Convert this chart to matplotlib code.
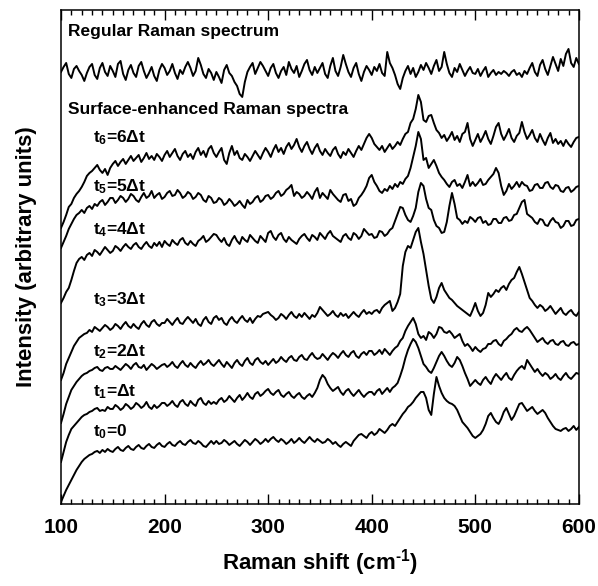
import numpy as np
import matplotlib
matplotlib.use('Agg')
import matplotlib.pyplot as plt
from matplotlib.ticker import MultipleLocator

plt.rcParams['font.family'] = ['Liberation Sans', 'DejaVu Sans']
plt.rcParams['font.weight'] = 'bold'
plt.rcParams['mathtext.fontset'] = 'custom'
plt.rcParams['mathtext.rm'] = 'Liberation Sans:bold'
plt.rcParams['mathtext.it'] = 'Liberation Sans:bold'
plt.rcParams['mathtext.bf'] = 'Liberation Sans:bold'

# Raman shift grid (cm^-1), one sample every 2.5 cm^-1
shift = np.arange(100, 600.1, 2.5)

# intensities (arbitrary units, already offset for stacking), rows of 50 cm^-1
regular = [432, 437, 441, 430, 426, 435, 438, 433, 429, 423, 431, 437, 440, 429, 425, 436, 441, 432, 428, 438,
           433, 427, 440, 443, 430, 424, 434, 439, 431, 427, 438, 442, 433, 426, 431, 437, 428, 423, 434, 440,
           436, 429, 433, 440, 431, 425, 434, 430, 437, 442, 436, 428, 433, 446, 439, 430, 426, 435, 431, 424,
           432, 427, 421, 434, 439, 431, 428, 422, 418, 410, 407, 422, 432, 437, 441, 430, 436, 442, 438, 433,
           428, 436, 440, 431, 426, 433, 437, 429, 442, 435, 431, 438, 427, 433, 440, 444, 434, 429, 437, 431,
           436, 441, 430, 426, 438, 446, 433, 428, 437, 449, 440, 432, 427, 436, 441, 430, 423, 432, 438, 434,
           429, 437, 433, 440, 431, 428, 452, 441, 436, 429, 420, 415, 426, 433, 438, 430, 436, 427, 432, 439,
           434, 441, 436, 430, 438, 444, 433, 437, 452, 440, 431, 427, 436, 432, 440, 434, 428, 433, 437, 431,
           430, 435, 428, 433, 437, 427, 431, 434, 429, 432, 430, 433, 431, 428, 432, 434, 429, 431, 427, 433,
           430, 436, 441, 432, 428, 439, 444, 435, 429, 438, 447, 440, 433, 445, 438, 450, 455, 441, 437, 446,
           440]

t6 = [276, 282, 289, 297, 300, 306, 310, 313, 317, 322, 328, 331, 333, 336, 339, 334, 331, 335, 329, 336,
      340, 343, 338, 342, 345, 340, 344, 348, 343, 346, 349, 342, 346, 351, 345, 348, 344, 350, 347, 343,
      349, 353, 347, 351, 355, 348, 344, 350, 353, 347, 350, 345, 352, 356, 349, 353, 347, 355, 358, 351,
      347, 352, 356, 344, 340, 351, 358, 349, 353, 346, 344, 350, 347, 343, 348, 353, 349, 345, 351, 356,
      352, 347, 354, 359, 352, 356, 350, 357, 361, 355, 359, 365, 357, 352, 358, 362, 355, 350, 356, 360,
      353, 349, 355, 351, 348, 354, 357, 350, 346, 352, 349, 355, 351, 347, 353, 358, 354, 360, 366, 370,
      366, 360, 357, 354, 358, 352, 356, 360, 355, 358, 362, 359, 365, 370, 372, 381, 385, 395, 409, 402,
      384, 382, 388, 389, 381, 374, 371, 366, 369, 363, 367, 372, 364, 368, 362, 370, 372, 381, 365, 358,
      364, 370, 362, 367, 373, 365, 360, 368, 377, 381, 370, 364, 369, 375, 366, 362, 368, 371, 382, 372,
      365, 369, 374, 366, 362, 370, 364, 359, 366, 371, 361, 365, 360, 363, 358, 364, 360, 357, 362, 366,
      367]

t5 = [256, 262, 268, 275, 280, 285, 289, 291, 294, 291, 296, 298, 295, 300, 298, 302, 304, 299, 302, 306,
      306, 301, 304, 308, 306, 302, 305, 310, 308, 304, 302, 307, 311, 306, 308, 313, 306, 309, 311, 305,
      307, 311, 313, 308, 309, 314, 311, 306, 308, 312, 310, 305, 307, 311, 309, 304, 302, 308, 306, 301,
      302, 306, 304, 299, 301, 305, 302, 298, 300, 303, 299, 296, 304, 300, 302, 306, 308, 302, 304, 308,
      309, 305, 307, 311, 313, 308, 310, 314, 316, 319, 308, 312, 310, 306, 308, 312, 309, 305, 312, 316,
      306, 311, 308, 305, 314, 310, 307, 304, 302, 309, 310, 303, 305, 298, 300, 306, 309, 313, 318, 326,
      329, 322, 318, 313, 311, 315, 313, 318, 315, 320, 317, 322, 320, 325, 328, 336, 347, 358, 372, 365,
      344, 346, 336, 340, 344, 338, 331, 327, 324, 320, 317, 322, 324, 318, 320, 316, 322, 329, 318, 322,
      318, 321, 325, 319, 320, 324, 327, 330, 336, 331, 318, 309, 313, 320, 315, 318, 322, 317, 322, 319,
      318, 313, 314, 319, 320, 316, 316, 321, 322, 317, 315, 319, 318, 313, 312, 316, 317, 312, 314, 317,
      318]

t4 = [201, 206, 212, 216, 224, 233, 241, 245, 247, 244, 249, 251, 248, 254, 252, 249, 253, 257, 254, 251,
      253, 258, 256, 253, 257, 260, 257, 255, 259, 261, 257, 255, 259, 262, 258, 256, 261, 258, 262, 257,
      263, 260, 258, 264, 261, 259, 264, 266, 261, 259, 263, 260, 258, 263, 265, 268, 262, 264, 267, 270,
      269, 265, 262, 266, 260, 258, 264, 268, 263, 260, 267, 264, 262, 269, 266, 263, 261, 268, 265, 262,
      271, 273, 267, 264, 269, 271, 265, 262, 267, 264, 262, 260, 265, 268, 270, 266, 263, 269, 267, 264,
      271, 268, 265, 270, 273, 268, 266, 264, 262, 268, 270, 266, 264, 271, 269, 265, 268, 275, 272, 269,
      270, 266, 267, 273, 272, 268, 270, 274, 276, 283, 290, 297, 296, 289, 284, 282, 288, 296, 312, 321,
      318, 305, 296, 294, 284, 278, 276, 271, 272, 282, 298, 311, 300, 286, 284, 280, 283, 281, 287, 285,
      282, 286, 287, 281, 283, 279, 280, 285, 285, 281, 281, 286, 287, 283, 284, 289, 290, 296, 302, 304,
      290, 288, 286, 282, 280, 285, 284, 279, 278, 283, 286, 282, 281, 276, 278, 283, 283, 278, 279, 284,
      285]

t3 = [124, 131, 140, 146, 152, 158, 162, 166, 168, 170, 171, 174, 172, 177, 175, 173, 176, 179, 177, 174,
      176, 180, 178, 175, 179, 182, 178, 176, 180, 177, 175, 180, 183, 179, 177, 182, 184, 180, 178, 181,
      181, 185, 182, 179, 183, 186, 181, 180, 184, 187, 184, 181, 185, 180, 178, 184, 187, 182, 180, 186,
      188, 184, 186, 181, 179, 184, 187, 183, 181, 185, 188, 184, 182, 186, 181, 185, 188, 187, 190, 191,
      192, 189, 187, 184, 186, 190, 188, 185, 189, 192, 188, 186, 190, 187, 191, 188, 185, 189, 187, 191,
      197, 194, 191, 188, 190, 193, 189, 187, 191, 188, 190, 186, 189, 192, 189, 187, 191, 194, 190, 192,
      190, 193, 194, 191, 196, 199, 201, 203, 193, 196, 202, 210, 238, 252, 258, 256, 264, 272, 276, 262,
      250, 234, 218, 205, 201, 207, 216, 221, 214, 210, 206, 204, 201, 198, 196, 194, 192, 190, 188, 194,
      201, 193, 188, 191, 199, 211, 207, 210, 214, 212, 216, 218, 214, 220, 224, 226, 232, 237, 230, 222,
      214, 206, 203, 199, 196, 199, 197, 193, 195, 198, 194, 190, 193, 196, 191, 189, 192, 194, 190, 188,
      192]

t2 = [81, 90, 100, 107, 114, 118, 122, 125, 128, 130, 131, 133, 134, 136, 137, 134, 133, 136, 137, 135,
      135, 138, 136, 134, 137, 140, 138, 135, 139, 141, 137, 136, 139, 134, 137, 140, 138, 135, 137, 139,
      140, 137, 139, 142, 138, 136, 140, 143, 139, 137, 141, 138, 136, 140, 143, 139, 141, 144, 140, 138,
      141, 144, 140, 137, 142, 139, 136, 141, 144, 140, 138, 143, 146, 141, 139, 144, 146, 142, 140, 143,
      139, 142, 145, 141, 143, 147, 144, 142, 146, 148, 144, 143, 147, 149, 145, 144, 148, 151, 147, 145,
      146, 150, 147, 144, 148, 151, 149, 146, 150, 153, 149, 147, 151, 153, 148, 146, 150, 152, 149, 153,
      153, 149, 151, 154, 150, 155, 152, 149, 153, 156, 158, 163, 166, 173, 178, 182, 186, 180, 170, 166,
      168, 164, 172, 170, 166, 170, 177, 176, 172, 171, 173, 170, 166, 168, 170, 163, 158, 160, 157, 153,
      157, 154, 152, 155, 156, 160, 160, 163, 164, 160, 158, 163, 165, 168, 170, 174, 176, 173, 172, 175,
      177, 174, 170, 166, 162, 164, 166, 162, 160, 163, 164, 160, 159, 162, 163, 159, 158, 161, 162, 159,
      160]

t1 = [42, 52, 62, 69, 75, 78, 81, 84, 87, 89, 90, 92, 93, 95, 96, 93, 94, 93, 97, 95,
      95, 99, 97, 94, 96, 100, 98, 95, 97, 101, 99, 96, 98, 102, 97, 95, 99, 96, 98, 101,
      101, 98, 100, 103, 99, 97, 102, 104, 100, 98, 103, 100, 98, 104, 106, 101, 99, 103, 100, 102,
      100, 104, 106, 102, 104, 108, 105, 102, 106, 109, 104, 107, 111, 107, 105, 110, 112, 108, 110, 113,
      115, 111, 109, 112, 114, 109, 107, 110, 112, 108, 106, 109, 111, 107, 105, 108, 110, 107, 111, 116,
      124, 129, 126, 120, 116, 113, 115, 117, 112, 109, 113, 115, 111, 108, 111, 114, 110, 107, 110, 112,
      112, 109, 113, 115, 110, 113, 116, 112, 116, 118, 121, 128, 136, 146, 154, 160, 165, 162, 156, 148,
      140, 137, 133, 131, 136, 142, 148, 152, 148, 143, 139, 137, 141, 147, 144, 138, 131, 125, 118, 121,
      124, 121, 119, 124, 127, 123, 120, 126, 130, 127, 124, 128, 131, 126, 124, 129, 133, 136, 138, 135,
      144, 140, 136, 132, 135, 131, 128, 131, 129, 125, 127, 130, 126, 124, 128, 131, 127, 125, 128, 131,
      130]

t0 = [2, 8, 14, 19, 24, 29, 34, 38, 42, 45, 47, 49, 50, 52, 53, 51, 54, 52, 55, 53,
      52, 55, 57, 54, 53, 56, 58, 55, 54, 57, 59, 56, 55, 58, 60, 57, 56, 59, 61, 58,
      57, 60, 62, 59, 58, 61, 63, 60, 59, 62, 64, 61, 60, 63, 61, 58, 57, 60, 63, 60,
      63, 60, 61, 64, 62, 59, 61, 63, 60, 58, 61, 64, 62, 59, 62, 65, 63, 60, 62, 65,
      62, 65, 67, 64, 62, 65, 63, 60, 62, 65, 61, 63, 66, 63, 61, 64, 67, 64, 62, 65,
      63, 61, 62, 65, 63, 60, 62, 59, 57, 60, 62, 60, 58, 63, 66, 69, 70, 68, 66, 70,
      72, 69, 71, 75, 73, 71, 74, 78, 80, 78, 82, 86, 90, 93, 97, 99, 102, 106, 109, 112,
      112, 106, 94, 89, 110, 127, 118, 111, 106, 103, 101, 100, 98, 94, 88, 82, 79, 76, 72, 68,
      66, 68, 70, 74, 80, 88, 91, 86, 82, 80, 85, 92, 96, 90, 84, 88, 94, 100, 101, 97,
      93, 95, 97, 93, 90, 92, 94, 91, 86, 82, 78, 75, 74, 73, 75, 76, 73, 75, 78, 74,
      77]

spectra = [regular, t6, t5, t4, t3, t2, t1, t0]
labels = ['$t_6$=6\u0394t', '$t_5$=5\u0394t', '$t_4$=4\u0394t', '$t_3$=3\u0394t',
          '$t_2$=2\u0394t', '$t_1$=\u0394t', '$t_0$=0']
label_y = [366, 317, 274, 204, 152, 112, 72]

fig = plt.figure(figsize=(5.98, 5.86), dpi=100)
ax = fig.add_axes([0.102, 0.140, 0.866, 0.843])

for s in spectra:
    assert len(s) == len(shift)
    ax.plot(shift, s, color='black', lw=1.4)

ax.text(107, 472, 'Regular Raman spectrum', fontsize=12.5, fontweight='bold', va='center')
ax.text(107, 394, 'Surface-enhanced Raman spectra', fontsize=12.5, fontweight='bold', va='center')
for lab, y in zip(labels, label_y):
    ax.text(131, y, lab, fontsize=12.5, fontweight='bold', va='center')

ax.set_xlim(100, 600)
ax.set_ylim(0, 494)
ax.xaxis.set_major_locator(MultipleLocator(100))
ax.xaxis.set_minor_locator(MultipleLocator(10))
ax.tick_params(axis='x', which='both', direction='in', top=True, bottom=True,
               labelsize=15, pad=10, width=1)
ax.tick_params(axis='x', which='major', length=7)
ax.tick_params(axis='x', which='minor', length=3.5)
ax.set_yticks([])
for lab in ax.get_xticklabels():
    lab.set_fontweight('bold')
for sp in ax.spines.values():
    sp.set_linewidth(1.1)

ax.set_xlabel('Raman shift (cm$^{\\text{-1}}$)', fontsize=16, fontweight='bold')
ax.xaxis.set_label_coords(0.5, -0.088)
ax.xaxis.label.set_va('top')
ax.set_ylabel('Intensity (arbitrary units)', fontsize=16, fontweight='bold')
ax.yaxis.set_label_coords(-0.046, 0.5)

fig.savefig('out.png', dpi=100)
